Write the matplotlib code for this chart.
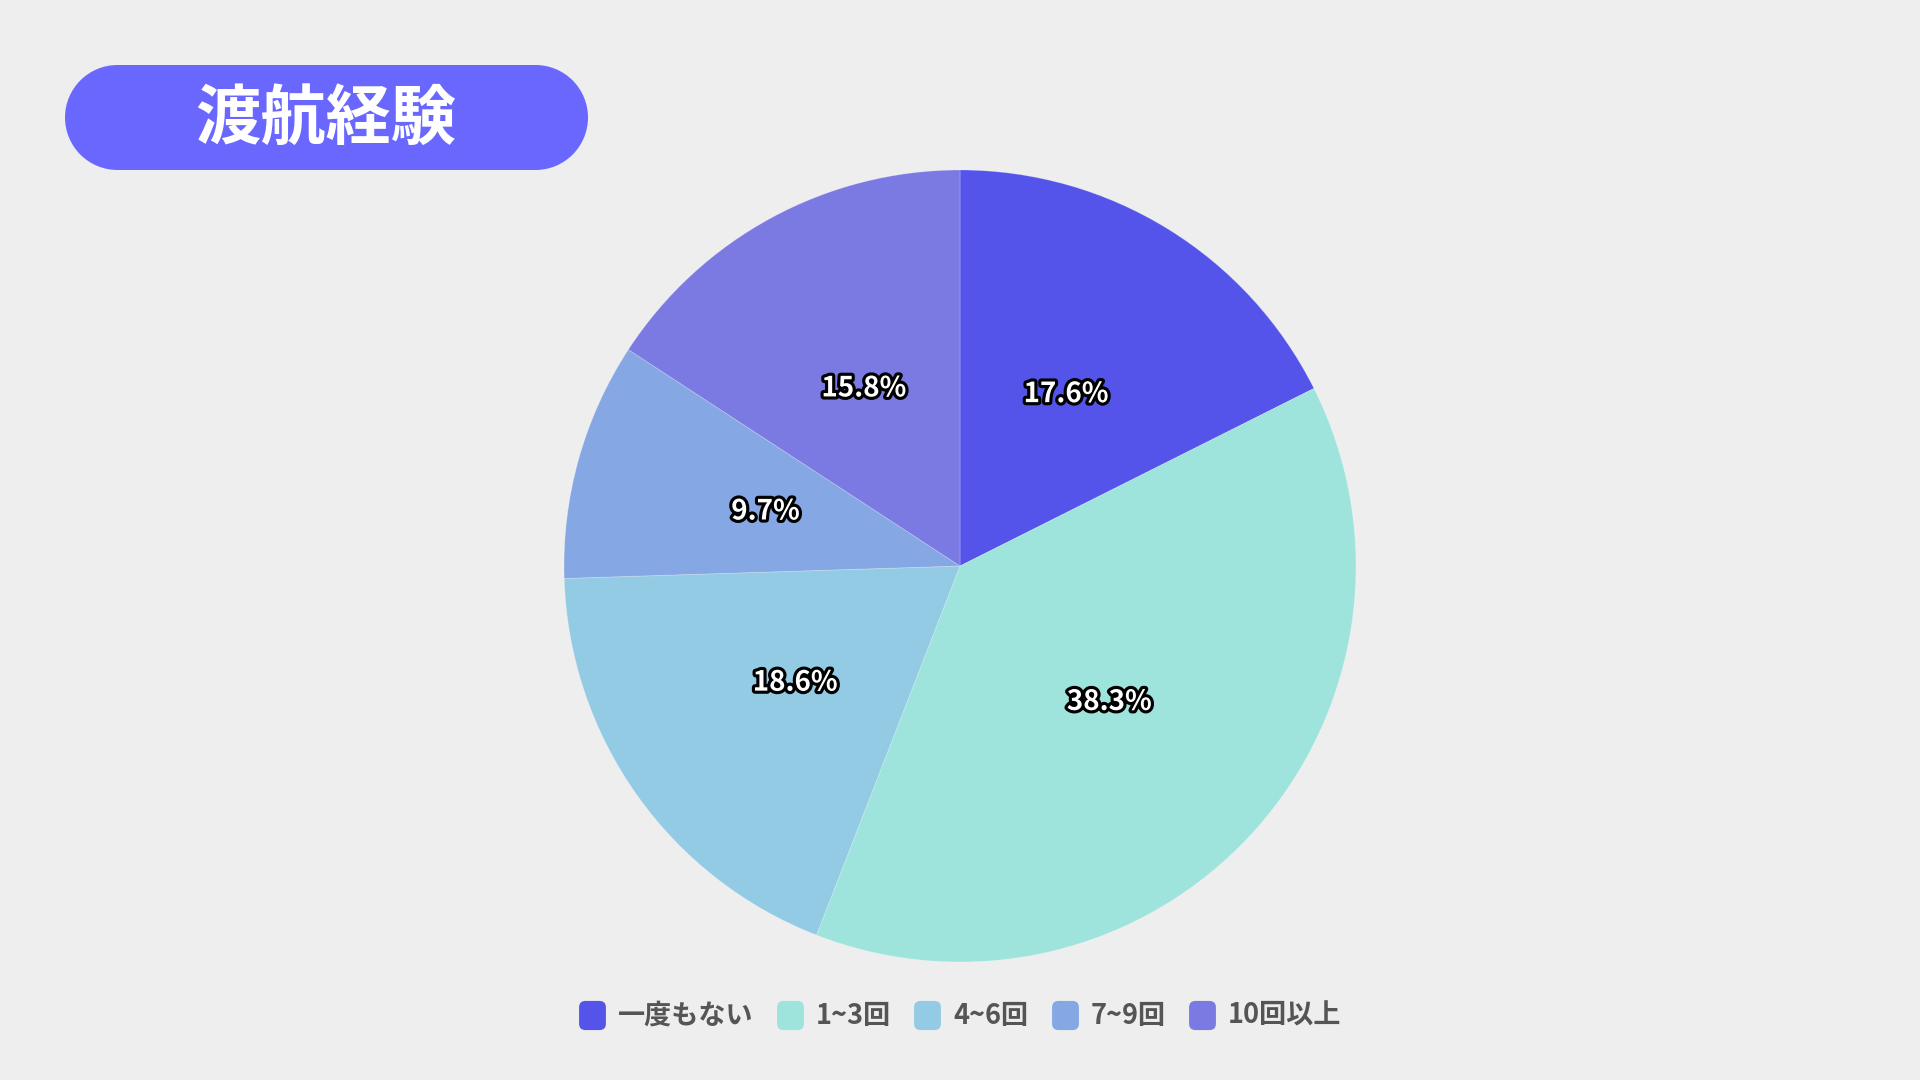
import matplotlib
matplotlib.use("Agg")
import matplotlib.pyplot as plt
import matplotlib.patches as mpatches
import matplotlib.patheffects as pe
from matplotlib.lines import Line2D

plt.rcParams['font.family'] = ['Noto Sans CJK JP', 'DejaVu Sans']

title = "渡航経験"
categories = ["一度もない", "1~3回", "4~6回", "7~9回", "10回以上"]
values = [17.6, 38.3, 18.6, 9.7, 15.8]
colors = ["#5454EA", "#9EE4DD", "#93CBE5", "#85A7E3", "#7B7AE3"]

BG = "#EEEEEE"
W, H = 1920, 1080
fig = plt.figure(figsize=(W / 100, H / 100), dpi=100, facecolor=BG)

# background/overlay axes in pixel coords
bg = fig.add_axes([0, 0, 1, 1])
bg.set_xlim(0, W)
bg.set_ylim(H, 0)
bg.axis("off")
bg.set_zorder(0)

# pill-shaped title box (rectangle + two half circles)
px0, py0, pw, ph = 65, 65, 523, 105
pr = ph / 2
pill_col = "#6A67FF"
bg.add_patch(mpatches.Rectangle((px0 + pr, py0), pw - 2 * pr, ph,
                                facecolor=pill_col, edgecolor="none"))
bg.add_patch(mpatches.Circle((px0 + pr, py0 + pr), pr, facecolor=pill_col, edgecolor="none"))
bg.add_patch(mpatches.Circle((px0 + pw - pr, py0 + pr), pr, facecolor=pill_col, edgecolor="none"))
bg.text(326, 119, title, ha="center", va="center", fontsize=47,
        fontweight="bold", color="white")

# pie
cx, cy, r = 960, 566, 396
ax = fig.add_axes([(cx - r) / W, (H - cy - r) / H, 2 * r / W, 2 * r / H])
ax.set_zorder(1)
wedges, texts, autotexts = ax.pie(
    values, colors=colors, startangle=90, counterclock=False,
    autopct="%1.1f%%", pctdistance=0.51, radius=1,
    wedgeprops=dict(edgecolor=(1, 1, 1, 0.25), linewidth=0.6))
ax.set_xlim(-1, 1)
ax.set_ylim(-1, 1)
ax.set_aspect("equal")
ax.axis("off")
for t in autotexts:
    t.set_color("white")
    t.set_fontsize(20)
    t.set_fontweight("bold")
    t.set_path_effects([pe.withStroke(linewidth=4.5, foreground="black")])

# rounded square marker
rs = mpatches.BoxStyle.Round(pad=0, rounding_size=0.22)(-0.46, -0.5, 0.92, 1, 1)
handles = [Line2D([], [], linestyle="none", marker=rs, markersize=21,
                  markerfacecolor=c, markeredgecolor="none") for c in colors]
leg = fig.legend(handles, categories, loc="center", bbox_to_anchor=(0.5, 1 - 1016 / H),
                 ncol=len(categories), frameon=False, fontsize=19.5,
                 handlelength=1.0, handletextpad=0.45, columnspacing=0.85,
                 borderaxespad=0)
for t in leg.get_texts():
    t.set_color("#555555")
    t.set_fontweight("bold")

fig.savefig("out.png", dpi=100, facecolor=BG)
